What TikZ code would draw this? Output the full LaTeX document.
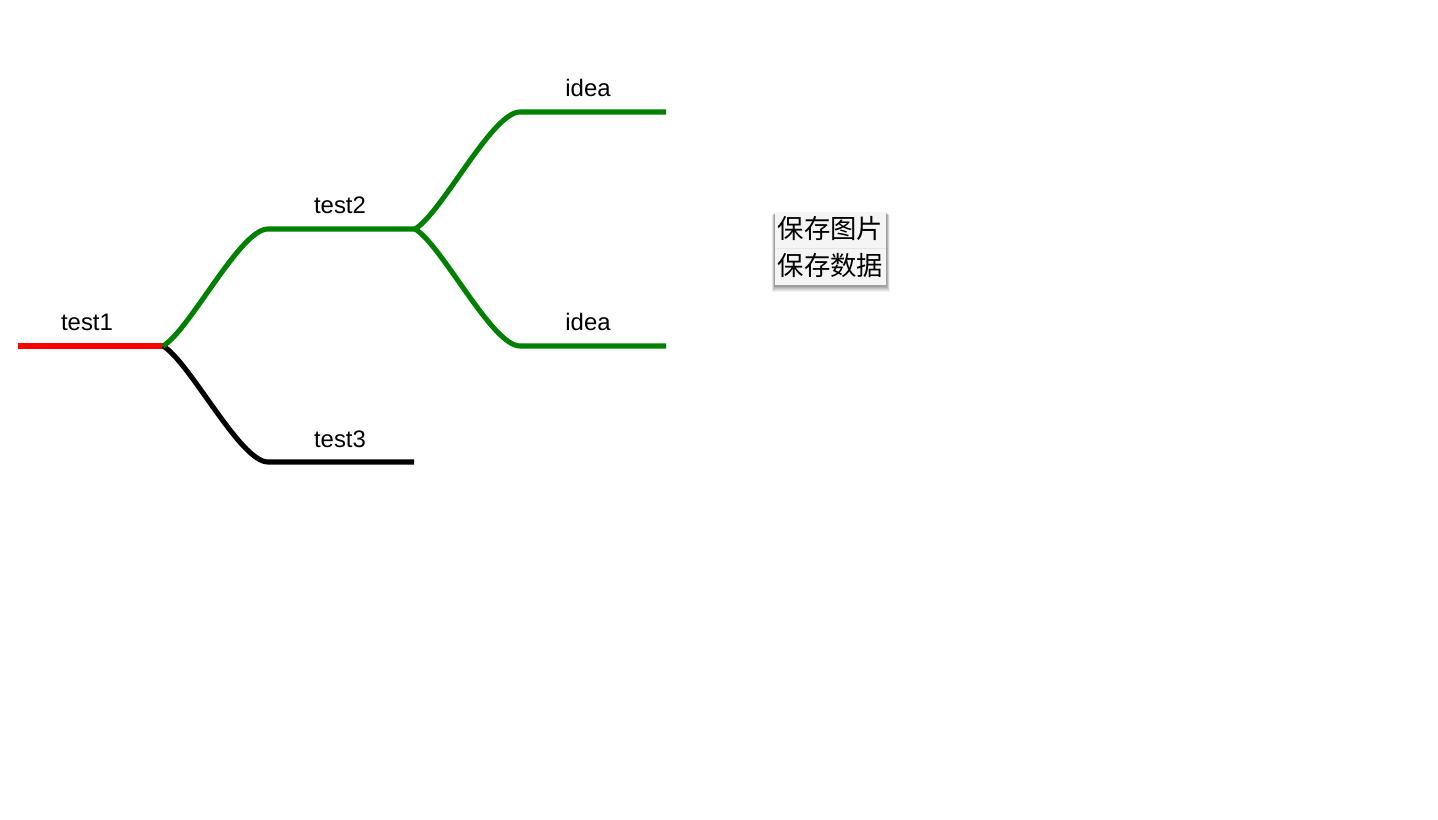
\documentclass[tikz,border=0pt]{standalone}
\usepackage{fontspec}
\setmainfont{Liberation Sans}
\newfontfamily\cjk{Noto Sans CJK SC}
\usetikzlibrary{calc}

\begin{document}
\begin{tikzpicture}[x=0.02cm, y=-0.02cm,
    branch/.style={line width=2.9pt},
    lbl/.style={font=\fontsize{13.6}{16}\selectfont, anchor=base, inner sep=0pt},
    item/.style={font=\cjk\fontsize{15}{17}\selectfont, inner sep=0pt}]
    \useasboundingbox (0,0) rectangle (1438,820);
    % branch points
    \coordinate (s1) at (18,346);
    \coordinate (j1) at (163,346);
    \coordinate (b2) at (268,229);
    \coordinate (j2) at (415,229);
    \coordinate (b3) at (268,462);
    \coordinate (e3) at (414,462);
    \coordinate (bi1) at (520,112);
    \coordinate (ei1) at (666,112);
    \coordinate (bi2) at (520,346);
    \coordinate (ei2) at (666,346);
    % lines
    \draw[branch, red] (s1) -- (j1);
    \draw[branch, black] (j1) .. controls (190,362) and (240,462) .. (b3) -- (e3);
    \draw[branch, green!50!black] (j1) .. controls (190,330) and (240,229) .. (b2) -- (j2);
    \draw[branch, green!50!black] (j2) .. controls (442,213) and (492,112) .. (bi1) -- (ei1);
    \draw[branch, green!50!black] (j2) .. controls (442,245) and (492,346) .. (bi2) -- (ei2);
    % labels
    \node[lbl] (test1) at (87,331) {test1};
    \node[lbl] (test2) at (340,214) {test2};
    \node[lbl] (test3) at (340,448) {test3};
    \node[lbl] (idea1) at (588,97) {idea};
    \node[lbl] (idea2) at (588,331) {idea};
    % menu
    \foreach \d/\o in {7/.05, 6/.06, 5/.07, 4/.08, 3/.09, 2/.1} {
        \fill[black, opacity=\o] (775-\d/2,212+\d/2) rectangle (886+\d/2,285+\d);
    }
    \fill[white] (775,212) rectangle (886,285);
    \fill[gray!8] (775,212) rectangle (886,285);
    \draw[gray!20, line width=.5pt] (775,248) -- (886,248);
    \node[item] (save1) at (830.5,229) {保存图片};
    \node[item] (save2) at (830.5,266) {保存数据};
\end{tikzpicture}
\end{document}
